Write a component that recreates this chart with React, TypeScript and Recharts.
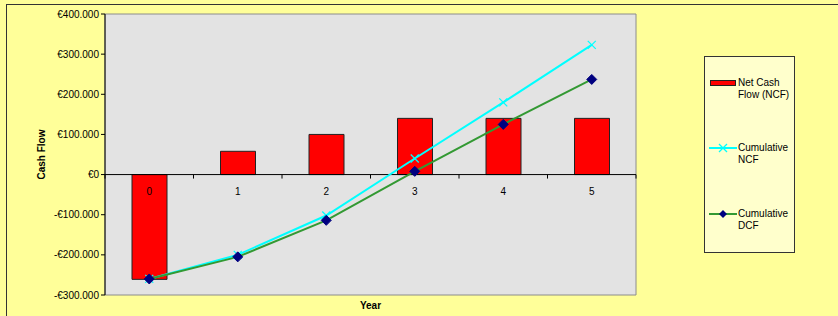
import React from "react";
import {
  ComposedChart,
  Bar,
  Line,
  XAxis,
  YAxis,
  ReferenceLine,
  ReferenceArea,
  ReferenceDot,
} from "recharts";

const years = ["0", "1", "2", "3", "4", "5"];
const netCashFlow = [-261000, 58000, 100000, 140000, 140000, 140000];
const cumulativeNcf = [-260000, -200000, -102000, 40000, 180000, 323000];
const cumulativeDcf = [-260000, -205000, -114000, 8000, 125000, 237000];
const yTicks = [-300000, -200000, -100000, 0, 100000, 200000, 300000, 400000];

const data = years.map((year, i) => ({
  year,
  ncf: netCashFlow[i],
  cumNcf: cumulativeNcf[i],
  cumDcf: cumulativeDcf[i],
}));

const FONT = "'Liberation Sans', Arial, sans-serif";
const CHART_W = 838;
const CHART_H = 316;
const MARGIN = { top: 14, right: 202, bottom: 0, left: 0 };
const Y_AXIS_W = 105;
const HALF_BAND = (CHART_W - MARGIN.right - Y_AXIS_W) / years.length / 2;

const euro = (v: number) => {
  const s = Math.abs(v).toString().replace(/\B(?=(\d{3})+(?!\d))/g, ".");
  return (v < 0 ? "-€" : "€") + s;
};

const CrossDot = (props: any) => {
  const { cx, cy } = props;
  if (cx == null || cy == null) return null;
  return (
    <g>
      <line x1={cx - 4} y1={cy - 4} x2={cx + 4} y2={cy + 4} stroke="#00FFFF" strokeWidth={1.2} />
      <line x1={cx - 4} y1={cy + 4} x2={cx + 4} y2={cy - 4} stroke="#00FFFF" strokeWidth={1.2} />
    </g>
  );
};

const DiamondDot = (props: any) => {
  const { cx, cy } = props;
  if (cx == null || cy == null) return null;
  return (
    <path
      d={`M${cx},${cy - 5}L${cx + 5},${cy}L${cx},${cy + 5}L${cx - 5},${cy}Z`}
      fill="#000080"
      stroke="#000080"
    />
  );
};

const AxisTick = (props: any) => {
  const { cx, cy, index } = props;
  if (cx == null || cy == null) return null;
  return (
    <g>
      <line x1={cx - HALF_BAND} y1={cy} x2={cx - HALF_BAND} y2={cy + 4} stroke="#000" />
      {index === years.length - 1 && (
        <line x1={cx + HALF_BAND} y1={cy} x2={cx + HALF_BAND} y2={cy + 4} stroke="#000" />
      )}
    </g>
  );
};

const legendText: React.CSSProperties = {
  position: "absolute",
  left: 33,
  fontSize: 10,
  lineHeight: "12px",
  fontFamily: FONT,
  color: "#000",
  whiteSpace: "nowrap",
};

const ChartLegend = () => (
  <div
    style={{
      position: "absolute",
      left: 704,
      top: 56,
      width: 91,
      height: 197,
      background: "#FFFFCC",
      border: "1px solid #333",
      boxSizing: "border-box",
    }}
  >
    <div
      style={{
        position: "absolute",
        left: 5,
        top: 23,
        width: 26,
        height: 6,
        background: "#FF0000",
        border: "1px solid #222",
        boxSizing: "border-box",
      }}
    />
    <div style={{ ...legendText, top: 20 }}>
      Net Cash
      <br />
      Flow (NCF)
    </div>
    <svg style={{ position: "absolute", left: 4, top: 86 }} width={28} height={10}>
      <line x1={0} y1={5} x2={28} y2={5} stroke="#00FFFF" strokeWidth={2} />
      <line x1={10} y1={1} x2={18} y2={9} stroke="#00FFFF" strokeWidth={1.2} />
      <line x1={10} y1={9} x2={18} y2={1} stroke="#00FFFF" strokeWidth={1.2} />
    </svg>
    <div style={{ ...legendText, top: 85 }}>
      Cumulative
      <br />
      NCF
    </div>
    <svg style={{ position: "absolute", left: 4, top: 152 }} width={28} height={10}>
      <line x1={0} y1={5} x2={28} y2={5} stroke="#339933" strokeWidth={2} />
      <path d="M14,1L18,5L14,9L10,5Z" fill="#000080" />
    </svg>
    <div style={{ ...legendText, top: 151 }}>
      Cumulative
      <br />
      DCF
    </div>
  </div>
);

export default function App() {
  return (
    <div
      style={{
        position: "absolute",
        left: 0,
        top: 0,
        width: CHART_W,
        height: CHART_H,
        background: "#FFFF99",
        overflow: "hidden",
      }}
    >
      <div
        style={{
          position: "absolute",
          left: 6,
          top: 4,
          width: CHART_W,
          height: CHART_H,
          border: "1.5px solid #333",
          boxSizing: "border-box",
        }}
      />
      <div style={{ position: "absolute", left: 0, top: 0 }}>
        <ComposedChart width={CHART_W} height={CHART_H} data={data} margin={MARGIN} barCategoryGap={0}>
          <XAxis
            dataKey="year"
            height={21}
            axisLine={false}
            tickLine={false}
            tick={false}
            label={{
              value: "Year",
              position: "insideBottom",
              offset: 7,
              fontSize: 10,
              fontWeight: "bold",
              fontFamily: FONT,
              fill: "#000",
            }}
          />
          <YAxis
            width={Y_AXIS_W}
            domain={[-300000, 400000]}
            ticks={yTicks}
            interval={0}
            tickFormatter={euro}
            tick={{ fontSize: 10, fill: "#000", fontFamily: FONT }}
            tickSize={4}
            tickMargin={2}
            axisLine={{ stroke: "#000" }}
            tickLine={{ stroke: "#000" }}
            label={{
              value: "Cash Flow",
              angle: -90,
              position: "insideLeft",
              offset: 41,
              fontSize: 10,
              fontWeight: "bold",
              fontFamily: FONT,
              fill: "#000",
              style: { textAnchor: "middle" },
            }}
          />
          <ReferenceArea
            y1={-300000}
            y2={400000}
            fill="#E3E3E3"
            fillOpacity={1}
            stroke="#8C8C8C"
            strokeWidth={1}
          />
          <Bar
            dataKey="ncf"
            name="Net Cash Flow (NCF)"
            fill="#FF0000"
            stroke="#222"
            strokeWidth={1}
            barSize={35}
            isAnimationActive={false}
          />
          <ReferenceLine y={0} stroke="#000" strokeWidth={1} />
          {years.map((y, i) => (
            <ReferenceDot
              key={y}
              x={y}
              y={0}
              r={0}
              shape={(p: any) => <AxisTick {...p} index={i} />}
              label={{
                value: y,
                position: "bottom",
                offset: 13,
                fontSize: 10,
                fontFamily: FONT,
                fill: "#000",
              }}
            />
          ))}
          <Line
            dataKey="cumNcf"
            name="Cumulative NCF"
            stroke="#00FFFF"
            strokeWidth={2}
            dot={<CrossDot />}
            activeDot={false}
            isAnimationActive={false}
          />
          <Line
            dataKey="cumDcf"
            name="Cumulative DCF"
            stroke="#339933"
            strokeWidth={2}
            dot={<DiamondDot />}
            activeDot={false}
            isAnimationActive={false}
          />
        </ComposedChart>
      </div>
      <ChartLegend />
    </div>
  );
}
